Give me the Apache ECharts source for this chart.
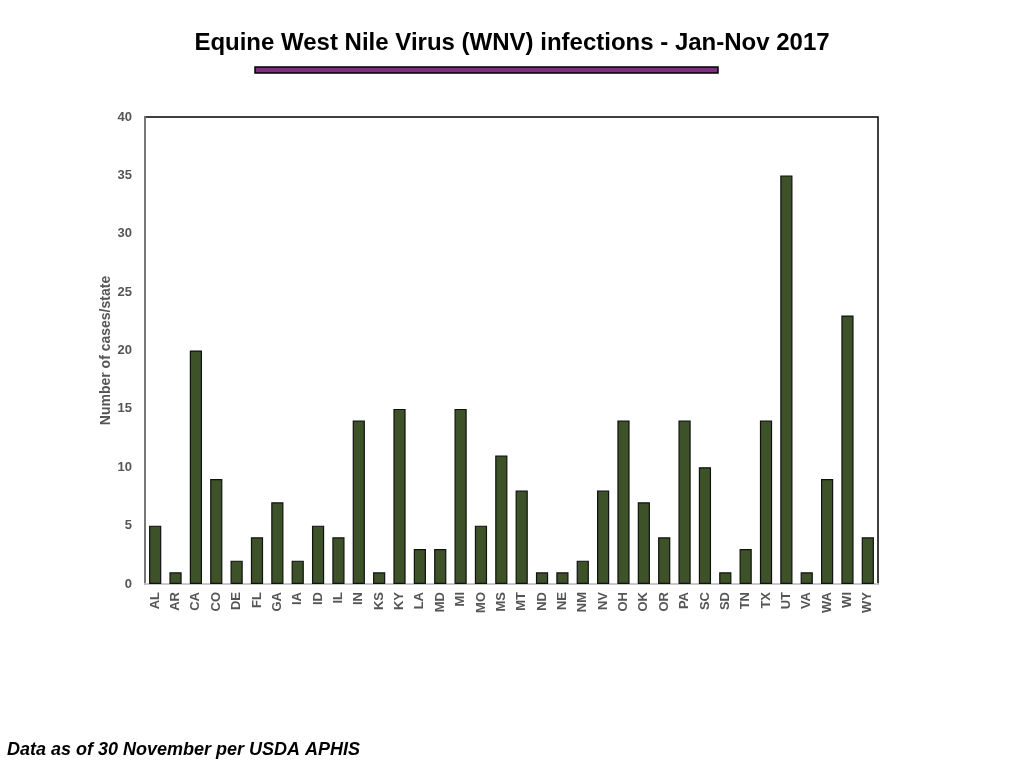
<!DOCTYPE html>
<html>
<head>
<meta charset="utf-8">
<script src="https://cdn.jsdelivr.net/npm/echarts@6/dist/echarts.min.js"></script>
<style>
  html, body { margin: 0; padding: 0; background: #fff; }
  #chart { width: 1024px; height: 768px; }
</style>
</head>
<body>
<div id="chart"></div>
<script>
const states = ['AL', 'AR', 'CA', 'CO', 'DE', 'FL', 'GA', 'IA', 'ID', 'IL', 'IN', 'KS', 'KY', 'LA', 'MD', 'MI', 'MO', 'MS',
  'MT', 'ND', 'NE', 'NM', 'NV', 'OH', 'OK', 'OR', 'PA', 'SC', 'SD', 'TN', 'TX', 'UT', 'VA', 'WA', 'WI', 'WY'];
const cases = [5, 1, 20, 9, 2, 4, 7, 2, 5, 4, 14, 1, 15, 3, 3, 15, 5, 11,
  8, 1, 1, 2, 8, 14, 7, 4, 14, 10, 1, 3, 14, 35, 1, 9, 23, 4];

const chart = echarts.init(document.getElementById('chart'));

const option = {
  animation: false,
  title: {
    text: 'Equine West Nile Virus (WNV) infections - Jan-Nov 2017',
    left: 'center',
    top: 26,
    textStyle: { fontFamily: 'Liberation Sans', fontSize: 24, fontWeight: 'bold', color: '#000' }
  },
  graphic: [
    {
      type: 'rect',
      shape: { x: 255, y: 67, width: 463, height: 6 },
      style: { fill: '#7e2d80', stroke: '#000', lineWidth: 1.5 }
    },
    {
      type: 'text',
      left: 7,
      top: 741,
      style: {
        text: 'Data as of 30 November per USDA APHIS',
        font: 'italic bold 18px "Liberation Sans"',
        fill: '#000'
      }
    }
  ],
  grid: {
    left: 145, right: 146, top: 117, bottom: 184,
    show: true, borderColor: '#000', borderWidth: 1.5
  },
  xAxis: {
    type: 'category',
    data: states,
    axisLine: { lineStyle: { color: '#c8c8c8', width: 2 } },
    axisTick: { show: false },
    axisLabel: {
      rotate: 90, interval: 0, margin: 8,
      color: '#555', fontFamily: 'Liberation Sans', fontSize: 13, fontWeight: 'bold'
    }
  },
  yAxis: {
    type: 'value',
    min: 0, max: 40, interval: 5,
    name: 'Number of cases/state',
    nameLocation: 'middle',
    nameGap: 32,
    nameMoveOverlap: false,
    nameTextStyle: { color: '#555', fontFamily: 'Liberation Sans', fontSize: 14, fontWeight: 'bold' },
    axisLine: { show: true, lineStyle: { color: '#777', width: 2 } },
    axisTick: { show: false },
    splitLine: { show: false },
    axisLabel: { color: '#555', fontFamily: 'Liberation Sans', fontSize: 13, fontWeight: 'bold', margin: 13 }
  },
  series: [
    {
      type: 'bar',
      data: cases,
      barWidth: '60%',
      itemStyle: { color: '#3d5229', borderColor: '#111', borderWidth: 1.2 }
    }
  ]
};

chart.setOption(option);
</script>
</body>
</html>
